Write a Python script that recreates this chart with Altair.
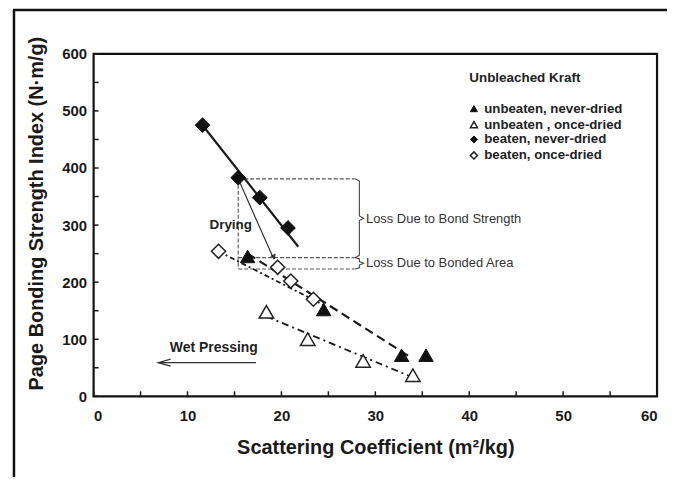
import altair as alt
import pandas as pd

# ---------------- data ----------------
# unbeaten, never-dried (filled triangles)
unb_nd_x = [16.4, 24.5, 32.8, 35.4]
unb_nd_y = [245, 152, 72, 72]
# unbeaten, once-dried (open triangles)
unb_od_x = [18.4, 22.8, 28.7, 34.0]
unb_od_y = [148, 100, 62, 37]
# beaten, never-dried (filled diamonds)
bt_nd_x = [11.6, 15.4, 17.7, 20.7]
bt_nd_y = [475, 383, 348, 295]
# beaten, once-dried (open diamonds)
bt_od_x = [13.3, 19.6, 21.0, 23.4]
bt_od_y = [254, 226, 202, 170]

# trend lines
fit_bt_nd_x = [11.6, 21.8]
fit_bt_nd_y = [475, 262]
fit_unb_nd_x = [16.4, 33.8]
fit_unb_nd_y = [250, 68]
fit_unb_od_x = [18.4, 34.0]
fit_unb_od_y = [140, 33]
fit_bt_od_x = [13.3, 24.5]
fit_bt_od_y = [254, 160]

# annotation geometry (data units)
box_left, box_right = 15.4, 27.8
box_top, box_mid, box_bottom = 381, 243, 223
drying_from = (15.4, 381)
drying_to = (19.2, 240)
wet_from_x, wet_to_x, wet_y = 17.3, 6.9, 59

legend_title = "Unbleached Kraft"
legend_labels = ["unbeaten, never-dried", "unbeaten , once-dried",
                 "beaten, never-dried", "beaten, once-dried"]
legend_y = [504, 476, 450, 422]

x_ticks = list(range(0, 61, 5))
y_ticks = list(range(0, 601, 50))
x_labels = list(range(0, 61, 10))
y_labels = list(range(0, 601, 100))

# ---------------- chart ----------------
W, H = 566, 344
FONT = "Liberation Sans"
INK = "#1a1a1a"

xs = alt.Scale(domain=[0, 60], nice=False, zero=False)
ys = alt.Scale(domain=[0, 600], nice=False, zero=False)

X_TITLE = "Scattering Coefficient (m²/kg)"
Y_TITLE = "Page Bonding Strength Index (N·m/g)"

AX = alt.Axis(values=x_labels, tickSize=0, domain=False,
              grid=False, labelPadding=12, labelFont=FONT, labelFontSize=15,
              labelFontWeight="bold", labelColor=INK,
              titleFont=FONT, titleFontSize=20, titleFontWeight="bold",
              titleColor=INK, titleY=51, titleBaseline="middle")
AY = alt.Axis(values=y_labels, tickSize=0, domain=False,
              grid=False, labelPadding=7, labelFont=FONT, labelFontSize=15,
              labelFontWeight="bold", labelColor=INK,
              titleFont=FONT, titleFontSize=20, titleFontWeight="bold",
              titleColor=INK, titleX=-57, titleY=160, titleAngle=-90,
              titleBaseline="middle", titleAlign="center")


def X(field="x"):
    return alt.X(f"{field}:Q", scale=xs, title=X_TITLE, axis=AX)


def Y(field="y"):
    return alt.Y(f"{field}:Q", scale=ys, title=Y_TITLE, axis=AY)


def df(xv, yv):
    return pd.DataFrame({"x": xv, "y": yv})


one = alt.Data(values=[{}])

base = alt.Chart(df([0, 60], [0, 600])).mark_point(opacity=0).encode(x=X(), y=Y())

# inward ticks
xt = alt.Chart(pd.DataFrame({"x": x_ticks})).mark_rule(color=INK, strokeWidth=1.5).encode(
    x=X(), y=alt.value(H), y2=alt.value(H - 5))
yt = alt.Chart(pd.DataFrame({"y": y_ticks})).mark_rule(color=INK, strokeWidth=1.5).encode(
    y=Y(), x=alt.value(0), x2=alt.value(5))

# outer figure frame
frame_left = alt.Chart(one).mark_rule(color="#111", strokeWidth=2.5).encode(
    x=alt.value(-80), y=alt.value(-44), y2=alt.value(426))
frame_top = alt.Chart(one).mark_rule(color="#111", strokeWidth=2.5).encode(
    x=alt.value(-81), x2=alt.value(W + 40), y=alt.value(-44))
frame_bottom = alt.Chart(one).mark_rule(color="#bbbbbb", strokeWidth=1.5).encode(
    x=alt.value(-81), x2=alt.value(W + 40), y=alt.value(426))


def line(xv, yv, dash=None, width=2.0, color=INK):
    kw = dict(color=color, strokeWidth=width)
    if dash:
        kw["strokeDash"] = dash
    return alt.Chart(df(xv, yv)).mark_line(**kw).encode(x=X(), y=Y())


l_bt_nd = line(fit_bt_nd_x, fit_bt_nd_y, width=2.2)
l_unb_nd = line(fit_unb_nd_x, fit_unb_nd_y, dash=[9, 5], width=2.2)
l_unb_od = line(fit_unb_od_x, fit_unb_od_y, dash=[7, 4, 2, 4], width=1.8)
l_bt_od = line(fit_bt_od_x, fit_bt_od_y, dash=[5, 3, 2, 3], width=1.8)

# dashed annotation box
seg = pd.DataFrame({
    "x": [box_left, box_left, box_left, box_left],
    "x2": [box_right, box_right, box_right, box_left],
    "y": [box_top, box_mid, box_bottom, box_top],
    "y2": [box_top, box_mid, box_bottom, box_bottom],
})
box = alt.Chart(seg).mark_rule(color="#555", strokeWidth=1.1, strokeDash=[4, 2]).encode(
    x=X(), x2="x2:Q", y=Y(), y2="y2:Q")

# braces
bx0, bx1, bx2 = box_right + 0.05, box_right + 0.5, box_right + 0.95
big_mid = 312
small_mid = 233
brace_pts = pd.DataFrame({
    "x": [bx0, bx1, bx1, bx2, bx1, bx1, bx0],
    "y": [box_top, box_top - 4, big_mid + 4, big_mid, big_mid - 4, box_mid + 4, box_mid],
    "o": list(range(7)),
})
brace_small = pd.DataFrame({
    "x": [bx0, bx1, bx1, bx2, bx1, bx1, bx0],
    "y": [box_mid, box_mid - 2, small_mid + 3, small_mid, small_mid - 3, box_bottom + 2, box_bottom],
    "o": list(range(7)),
})
br1 = alt.Chart(brace_pts).mark_line(color="#444", strokeWidth=1.1).encode(
    x=X(), y=Y(), order="o:Q")
br2 = alt.Chart(brace_small).mark_line(color="#444", strokeWidth=1.1).encode(
    x=X(), y=Y(), order="o:Q")

# drying arrow
dry = alt.Chart(df([drying_from[0], drying_to[0]], [drying_from[1], drying_to[1]])).mark_line(
    color="#333", strokeWidth=1.2).encode(x=X(), y=Y())
dry_head = alt.Chart(df([drying_to[0]], [drying_to[1] + 4])).mark_point(
    shape="triangle-down", filled=True, color="#333", size=35, angle=336, opacity=1).encode(
    x=X(), y=Y())

# wet pressing arrow
wet = alt.Chart(df([wet_from_x, wet_to_x], [wet_y, wet_y])).mark_line(
    color="#333", strokeWidth=1.3).encode(x=X(), y=Y())
wet_head = alt.Chart(pd.DataFrame({"x": [wet_to_x + 1.3, wet_to_x, wet_to_x + 1.3],
                                   "y": [wet_y + 6, wet_y, wet_y - 6],
                                   "o": [0, 1, 2]})).mark_line(
    color="#333", strokeWidth=1.3).encode(x=X(), y=Y(), order="o:Q")


def pts(xv, yv, shape, filled, size):
    if filled:
        m = alt.Chart(df(xv, yv)).mark_point(shape=shape, filled=True, color="#111",
                                             size=size, opacity=1, stroke="#111",
                                             strokeWidth=1)
    else:
        m = alt.Chart(df(xv, yv)).mark_point(shape=shape, filled=True, fill="white",
                                             stroke="#222", strokeWidth=1.5,
                                             size=size, opacity=1)
    return m.encode(x=X(), y=Y())


p_unb_nd = pts(unb_nd_x, unb_nd_y, "triangle-up", True, 210)
p_unb_od = pts(unb_od_x, unb_od_y, "triangle-up", False, 210)
p_bt_nd = pts(bt_nd_x, bt_nd_y, "diamond", True, 220)
p_bt_od = pts(bt_od_x, bt_od_y, "diamond", False, 200)


def label(text, x, y, size=12, weight="normal", align="left", color="#222"):
    return alt.Chart(df([x], [y])).mark_text(
        text=text, font=FONT, fontSize=size, fontWeight=weight, align=align,
        baseline="middle", color=color).encode(x=X(), y=Y())


t_bond = label("Loss Due to Bond Strength", 29.0, 311, size=13, color="#333")
t_area = label("Loss Due to Bonded Area", 29.0, 234, size=13, color="#333")
t_dry = label("Drying", 14.6, 300, size=13.5, weight="bold", align="center")
t_wet = label("Wet Pressing", 12.8, 84, size=14, weight="bold", align="center")

# legend
leg_title = label(legend_title, 40.0, 557, size=13.5, weight="bold")
leg_text = alt.Chart(pd.DataFrame({"x": [41.6] * 4, "y": legend_y, "t": legend_labels})).mark_text(
    font=FONT, fontSize=13.3, fontWeight="bold", align="left", baseline="middle",
    color="#222").encode(x=X(), y=Y(), text="t:N")
lx = 40.5
leg_syms = [
    pts([lx], [legend_y[0]], "triangle-up", True, 50),
    pts([lx], [legend_y[1]], "triangle-up", False, 50),
    pts([lx], [legend_y[2]], "diamond", True, 50),
    pts([lx], [legend_y[3]], "diamond", False, 50),
]

chart = alt.layer(
    base, frame_left, frame_top, frame_bottom, xt, yt,
    box, br1, br2,
    l_bt_nd, l_unb_nd, l_unb_od, l_bt_od,
    dry, dry_head, wet, wet_head,
    p_bt_od, p_unb_od, p_unb_nd, p_bt_nd,
    t_bond, t_area, t_dry, t_wet,
    leg_title, leg_text, *leg_syms,
).properties(
    width=W, height=H,
    autosize=alt.AutoSizeParams(type="none"),
    padding={"left": 86, "top": 45, "right": 10, "bottom": 80},
    background="white",
).configure_view(stroke="#111", strokeWidth=2.2)

chart.save("out.html", embed_options={"renderer": "svg", "actions": False})
